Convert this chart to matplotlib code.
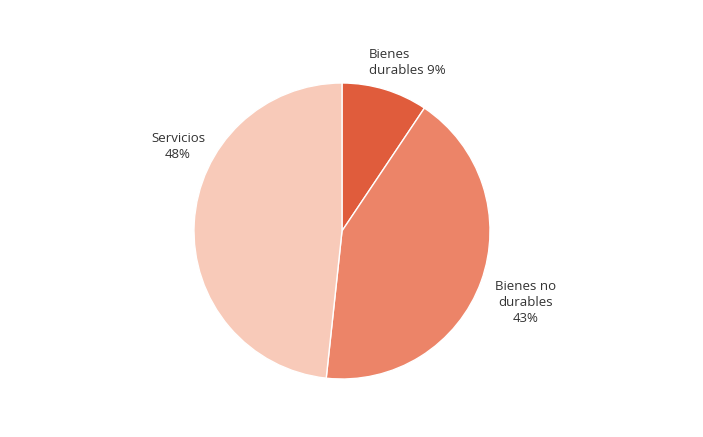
import matplotlib
matplotlib.use("Agg")
import matplotlib.pyplot as plt

# shares of consumption, clockwise from 12 o'clock
categories = ["Bienes\ndurables 9%", "Bienes no\ndurables\n43%", "Servicios\n48%"]
shares = [9.4, 42.3, 48.3]
colors = ["#E05C3C", "#EC8468", "#F8CAB9"]

# label anchor points (pixels from top-left) and alignment
label_pos = [(369, 63, "left"), (526, 302, "center"), (178, 147, "center")]

W, H = 703, 437
fig = plt.figure(figsize=(W / 100, H / 100), dpi=100)
ax = fig.add_axes([0, 0, 1, 1])
ax.set_axis_off()

ax.pie(shares, colors=colors, startangle=90, counterclock=False,
       center=(342, H - 231), radius=148,
       wedgeprops=dict(edgecolor="white", linewidth=1.0))
ax.set_xlim(0, W)
ax.set_ylim(0, H)
ax.set_aspect("equal")

for text, (x, y, ha) in zip(categories, label_pos):
    ax.text(x, H - y, text, ha=ha, va="center", fontsize=9.5,
            family=["Open Sans", "DejaVu Sans"], color="#333333",
            linespacing=1.3)

fig.savefig("out.png", dpi=100)
